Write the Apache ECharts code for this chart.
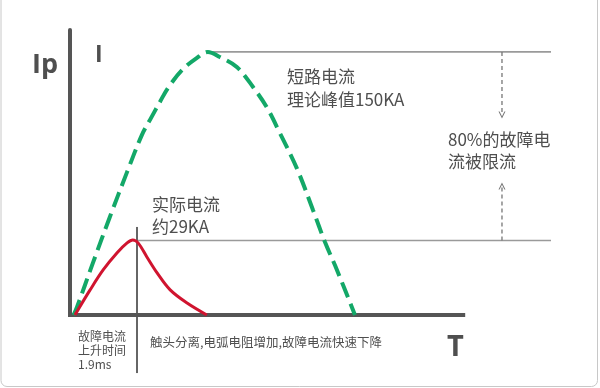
<!DOCTYPE html>
<html>
<head>
<meta charset="utf-8">
<script src="https://cdn.jsdelivr.net/npm/echarts@6/dist/echarts.min.js"></script>
<style>
html,body{margin:0;padding:0;background:#fff;}
#chart{width:600px;height:388px;}
</style>
</head>
<body>
<div id="chart"></div>
<script>
// ---- data (x: time units, y: current units as drawn) ----
const xMax = 13.64;
const yMax = 162.5;
const riseTime = 1.9;            // ms
const theoreticalPeak = 150;     // KA
const actualPeakLevel = 42.5;    // drawn level of actual peak
const refLineStartTop = 3.97;
const refLineEnd = 13.64;
const axisXEnd = 11.15;
const arrowX = 12.25;
const downArrowEnd = 114.0;
const upArrowEnd = 73.5;
const riseLineTop = 50.2;
const riseLineBottom = -33.1;

const shortCircuitCurve = [
  [0.10, 0], [0.20, 4.6], [0.65, 29.7], [1.13, 55.9], [1.62, 81.6],
  [2.04, 102.7], [2.30, 112.4], [2.55, 121.5], [2.78, 129.5], [3.18, 139.7],
  [3.60, 146.6], [3.91, 150], [4.25, 147.1], [4.73, 141.4], [5.19, 130.0],
  [5.59, 118.1], [5.95, 103.8], [6.44, 83.3], [6.89, 59.9], [7.23, 41.6],
  [7.57, 25.7], [8.08, 0]
];
const actualCurve = [
  [0.14, 0], [0.57, 14.3], [0.94, 25.7], [1.33, 35.4], [1.62, 41.1],
  [1.78, 42.8], [1.93, 41.1], [2.18, 33.1], [2.47, 24.0], [2.84, 14.3],
  [3.32, 6.8], [3.88, 0]
];

const labelIp = 'Ip';
const labelI = 'I';
const labelT = 'T';
const labelTheory = ['短路电流', '理论峰值150KA'];
const labelLimited = ['80%的故障电', '流被限流'];
const labelActual = ['实际电流', '约29KA'];
const labelRise = ['故障电流', '上升时间', '1.9ms'];
const labelFall = '触头分离,电弧电阻增加,故障电流快速下降';

// ---- chart ----
const chart = echarts.init(document.getElementById('chart'), null, {renderer: 'canvas'});
const CJK = '"Noto Sans CJK SC", "Noto Sans", sans-serif';
const LAT = '"Open Sans", "Noto Sans", sans-serif';
const TXT = '#4f4f4f';
const downChevron = 'path://M0,0 L5,7 L10,0 L8.4,0 L5,4.8 L1.6,0 Z';
const upChevron = 'path://M0,7 L5,0 L10,7 L8.4,7 L5,2.2 L1.6,7 Z';

function txt(text, x, y, font) {
  return {type: 'text', x: x, y: y, silent: true,
    style: {text: text, fill: TXT, font: font, verticalAlign: 'middle', align: 'left'}};
}

const option = {
  animation: false,
  backgroundColor: '#ffffff',
  grid: {left: 70, right: 49, top: 30, bottom: 73},
  xAxis: {type: 'value', min: 0, max: xMax, show: false},
  yAxis: {type: 'value', min: 0, max: yMax,
    axisLine: {show: true, lineStyle: {color: '#555555', width: 4}},
    axisTick: {show: false}, axisLabel: {show: false}, splitLine: {show: false}},
  series: [
    { // x axis line
      type: 'line', clip: false, showSymbol: false, silent: true, z: 5,
      data: [[0, 0], [axisXEnd, 0]],
      lineStyle: {color: '#555555', width: 4, cap: 'square'}
    },
    { // theoretical peak reference line
      type: 'line', clip: false, showSymbol: false, silent: true, z: 2,
      data: [[refLineStartTop, theoreticalPeak], [refLineEnd, theoreticalPeak]],
      lineStyle: {color: '#9a9a9a', width: 1.6}
    },
    { // actual peak reference line
      type: 'line', clip: false, showSymbol: false, silent: true, z: 2,
      data: [[riseTime, actualPeakLevel], [refLineEnd, actualPeakLevel]],
      lineStyle: {color: '#9a9a9a', width: 1.6}
    },
    { // rise time vertical line
      type: 'line', clip: false, showSymbol: false, silent: true, z: 3,
      data: [[riseTime, riseLineTop], [riseTime, riseLineBottom]],
      lineStyle: {color: '#666666', width: 2}
    },
    { // down dashed arrow
      type: 'line', clip: false, silent: true, z: 3,
      data: [{value: [arrowX, theoreticalPeak], symbol: 'none'},
             {value: [arrowX, downArrowEnd], symbol: downChevron, symbolSize: [7, 7]}],
      showSymbol: true, showAllSymbol: true,
      itemStyle: {color: '#777777'},
      lineStyle: {color: '#777777', width: 1.3, type: [4, 3]}
    },
    { // up dashed arrow
      type: 'line', clip: false, silent: true, z: 3,
      data: [{value: [arrowX, actualPeakLevel], symbol: 'none'},
             {value: [arrowX, upArrowEnd], symbol: upChevron, symbolSize: [7, 7]}],
      showSymbol: true, showAllSymbol: true,
      itemStyle: {color: '#777777'},
      lineStyle: {color: '#777777', width: 1.3, type: [4, 3]}
    },
    { // theoretical short-circuit current
      type: 'line', clip: false, showSymbol: false, silent: true, z: 6,
      smooth: 0.35,
      data: shortCircuitCurve,
      lineStyle: {color: '#13a868', width: 4, type: [16, 7]}
    },
    { // actual current
      type: 'line', clip: false, showSymbol: false, silent: true, z: 7,
      smooth: 0.35,
      data: actualCurve,
      lineStyle: {color: '#d0142f', width: 3}
    }
  ],
  graphic: [
    {type: 'rect', silent: true, shape: {x: 1, y: -10, width: 596.5, height: 396.5, r: 6},
      style: {fill: 'none', stroke: '#c8c8c8', lineWidth: 1}},
    txt(labelIp, 32, 65, 'bold 27px ' + LAT),
    txt(labelI, 95, 55, 'bold 23px ' + LAT),
    txt(labelT, 447, 348, 'bold 29px ' + LAT),
    txt(labelTheory[0], 287, 77, '17px ' + CJK),
    txt(labelTheory[1], 287, 100, '17px ' + CJK),
    txt(labelLimited[0], 448, 140, '17px ' + CJK),
    txt(labelLimited[1], 448, 162, '17px ' + CJK),
    txt(labelActual[0], 152, 205, '17px ' + CJK),
    txt(labelActual[1], 152, 227, '17px ' + CJK),
    txt(labelRise[0], 78, 336, '12px ' + CJK),
    txt(labelRise[1], 78, 350, '12px ' + CJK),
    txt(labelRise[2], 78, 364, '12px ' + CJK),
    txt(labelFall, 150, 342, '12.5px ' + CJK)
  ]
};
chart.setOption(option);
</script>
</body>
</html>
